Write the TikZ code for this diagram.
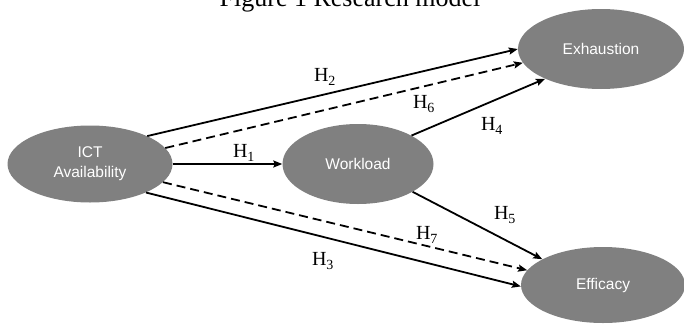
\documentclass[tikz,border=0pt]{standalone}
\usepackage{fontspec}
\setmainfont{Liberation Serif}
\newfontfamily\arialfont{Liberation Sans}
\usepackage{tikz}
\usetikzlibrary{arrows.meta}
\usetikzlibrary{shapes.geometric}
\definecolor{constructgray}{RGB}{128,128,128}

\begin{document}
\begin{tikzpicture}[x=1pt,y=-1pt,
	construct/.style = {ellipse, fill=constructgray, text=white, inner sep=0pt, align=center, font=\arialfont\fontsize{15.5}{20}\selectfont},
	hyp/.style = {inner sep=0pt, font=\fontsize{20}{24}\selectfont},
	link/.style = {line width=1.8pt, -{Stealth[length=9pt,width=7pt,inset=1.5pt]}}]
					\useasboundingbox (0,0) rectangle (684,324);
					\node[anchor=base, font=\fontsize{26}{30}\selectfont] (title) at (350,6) {Figure 1 Research model};
					\begin{scope}[every node/.style={construct}]
						\node[minimum width=165pt, minimum height=77pt] (ict) at (90,164) {ICT\\Availability};
						\node[minimum width=151pt, minimum height=80pt] (work) at (358,164) {Workload};
						\node[minimum width=166pt, minimum height=80pt] (exh) at (601,49) {Exhaustion};
						\node[minimum width=164pt, minimum height=76pt] (eff) at (603,285) {Efficacy};
					\end{scope}
					\draw [link] (ict.26) -- (exh.west);
					\draw [link, dash pattern=on 9pt off 5pt] (ict.12) -- (exh.190);
					\draw [link] (ict.east) -- (work.west);
					\draw [link] (work.28) -- (exh.208);
					\draw [link] (work.-27) -- (eff.157);
					\draw [link, dash pattern=on 9pt off 5pt] (ict.-14) -- (eff.169);
					\draw [link] (ict.-27) -- (eff.181);
					\node[hyp] (h1) at (244,153) {H\textsubscript{1}};
					\node[hyp] (h2) at (325,77) {H\textsubscript{2}};
					\node[hyp] (h3) at (323,261) {H\textsubscript{3}};
					\node[hyp] (h4) at (492,126) {H\textsubscript{4}};
					\node[hyp] (h5) at (505,215) {H\textsubscript{5}};
					\node[hyp] (h6) at (424,104) {H\textsubscript{6}};
					\node[hyp] (h7) at (427,235) {H\textsubscript{7}};
				\end{tikzpicture}
\end{document}
